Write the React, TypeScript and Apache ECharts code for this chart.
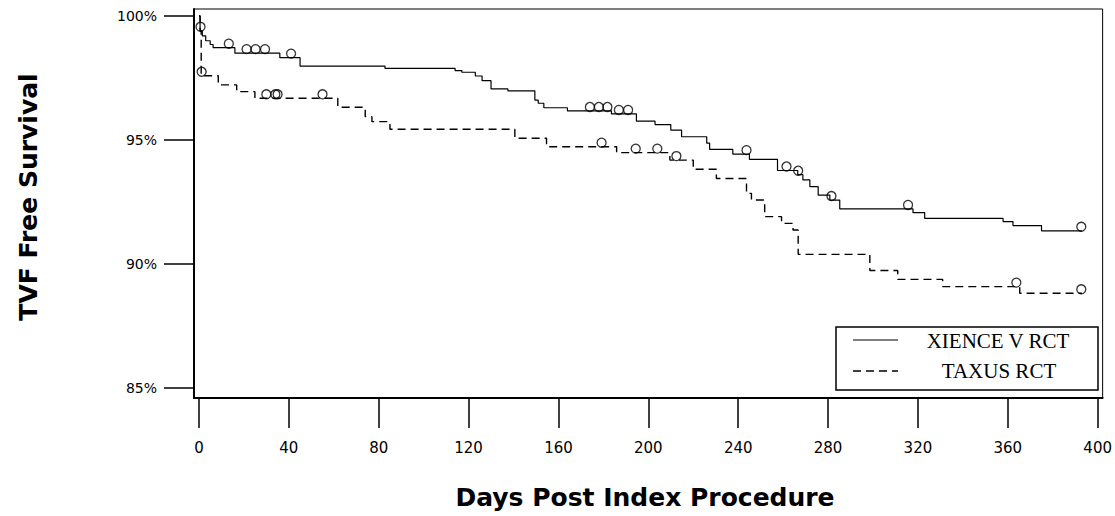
import React, { useEffect, useRef } from "react";
import * as echarts from "echarts";

// ---- data ----
const xTicks = [0, 40, 80, 120, 160, 200, 240, 280, 320, 360, 400];
const yTicks = [85, 90, 95, 100];
const seriesNames = ["XIENCE V RCT", "TAXUS RCT"];

const xienceDays = [0, 0.5, 1.5, 3, 5, 6.3, 16, 36, 45, 82.8, 114, 117, 123, 126, 130, 137.5, 149.5, 151, 153.5, 164, 183.6, 194.7, 203, 210, 214.8, 226, 227.3, 237.6, 245, 257.5, 266.5, 268.8, 271.9, 275.6, 280.8, 285.2, 317.8, 323, 357.9, 362.3, 375, 393];
const xienceSurv = [100, 99.4, 99.2, 99.0, 98.85, 98.72, 98.5, 98.32, 97.98, 97.89, 97.8, 97.73, 97.58, 97.39, 97.06, 96.98, 96.61, 96.48, 96.3, 96.17, 96.05, 95.76, 95.62, 95.4, 95.13, 94.87, 94.62, 94.43, 94.22, 93.77, 93.6, 93.39, 93.12, 92.78, 92.58, 92.22, 92.07, 91.84, 91.71, 91.55, 91.34, 91.34];
const xienceCensorDays = [0.7, 13.3, 21.2, 25.2, 29.4, 41, 174, 178, 181.8, 186.9, 191, 243.7, 261.5, 266.7, 281.5, 315.6, 392.7];

const taxusDays = [0, 0.5, 1.0, 8.6, 16.8, 24.9, 61.8, 74, 77, 85, 140.6, 154.7, 185.9, 209.6, 220, 230.3, 243.7, 245.9, 251.8, 259.3, 264.4, 266.7, 298.6, 311, 331, 365.3, 393];
const taxusSurv = [100, 99.4, 97.59, 97.22, 96.95, 96.68, 96.32, 95.94, 95.74, 95.43, 95.07, 94.73, 94.49, 94.19, 93.82, 93.45, 92.85, 92.58, 91.91, 91.64, 91.37, 90.39, 89.74, 89.38, 89.09, 88.82, 88.82];
const taxusCensorDays = [1.2, 30, 34, 35, 55, 179.2, 194.4, 204, 212.5, 363.8, 392.7];

const xTitle = "Days Post Index Procedure";
const yTitle = "TVF Free Survival";

function stepAt(days: number[], surv: number[], t: number): number {
  let v = surv[0];
  for (let i = 0; i < days.length; i++) if (days[i] <= t) v = surv[i];
  return v;
}

export default function App() {
  const ref = useRef<HTMLDivElement>(null);
  useEffect(() => {
    if (!ref.current) return;
    const chart = echarts.init(ref.current, null, { renderer: "svg" });
    const xPairs = xienceDays.map((d, i) => [d, xienceSurv[i]]);
    const tPairs = taxusDays.map((d, i) => [d, taxusSurv[i]]);
    const xCens = xienceCensorDays.map((d) => [d, stepAt(xienceDays, xienceSurv, d)]);
    const tCens = taxusCensorDays.map((d) => [d, stepAt(taxusDays, taxusSurv, d)]);
    const axisFont = "'DejaVu Sans', sans-serif";
    const censorStyle = {
      type: "scatter",
      symbol: "circle",
      symbolSize: 9,
      symbolOffset: [0, -4],
      z: 5,
      itemStyle: { color: "rgba(255,255,255,0)", borderColor: "#000", borderWidth: 1.3 },
    };
    chart.setOption({
      animation: false,
      backgroundColor: "#fff",
      grid: { left: 194, right: 12, top: 9, bottom: 118, show: true, borderColor: "#000", borderWidth: 1 },
      xAxis: {
        type: "value",
        min: -2.2,
        max: 402.2,
        splitLine: { show: false },
        axisLine: { show: true, onZero: false, lineStyle: { color: "#000", width: 2 } },
        axisTick: { show: true, customValues: xTicks, length: 30, inside: false, lineStyle: { color: "#000", width: 1.5 } },
        axisLabel: { customValues: xTicks, margin: 42, fontSize: 15, fontFamily: axisFont, color: "#000" },
      },
      yAxis: {
        type: "value",
        min: 84.6,
        max: 100.28,
        splitLine: { show: false },
        axisLine: { show: true, onZero: false, lineStyle: { color: "#000", width: 2 } },
        axisTick: { show: true, customValues: yTicks, length: 30, inside: false, lineStyle: { color: "#000", width: 1.5 } },
        axisLabel: { customValues: yTicks, margin: 37, fontSize: 14, fontFamily: axisFont, color: "#000", formatter: "{value}%" },
      },
      series: [
        {
          name: seriesNames[0],
          type: "line",
          step: "end",
          data: xPairs,
          showSymbol: false,
          lineStyle: { color: "#000", width: 1.2 },
        },
        {
          name: seriesNames[1],
          type: "line",
          step: "end",
          data: tPairs,
          showSymbol: false,
          lineStyle: { color: "#000", width: 1.4, type: [8, 5] },
        },
        { ...censorStyle, name: seriesNames[0] + " censored", data: xCens },
        { ...censorStyle, name: seriesNames[1] + " censored", data: tCens },
      ],
      graphic: [
        {
          type: "text",
          x: 645,
          y: 497,
          style: { text: xTitle, align: "center", verticalAlign: "middle", fontSize: 25, fontWeight: "bold", fontFamily: axisFont, fill: "#000" },
        },
        {
          type: "text",
          x: 28,
          y: 197,
          rotation: Math.PI / 2,
          style: { text: yTitle, align: "center", verticalAlign: "middle", fontSize: 25, fontWeight: "bold", fontFamily: axisFont, fill: "#000" },
        },
        {
          type: "rect",
          shape: { x: 836, y: 327, width: 262, height: 63 },
          style: { fill: "#fff", stroke: "#000", lineWidth: 1.5 },
          z: 10,
        },
        {
          type: "line",
          shape: { x1: 853, y1: 340, x2: 898, y2: 340 },
          style: { stroke: "#000", lineWidth: 1.2 },
          z: 11,
        },
        {
          type: "line",
          shape: { x1: 853, y1: 371, x2: 898, y2: 371 },
          style: { stroke: "#000", lineWidth: 1.4, lineDash: [8, 5] },
          z: 11,
        },
        {
          type: "text",
          x: 998,
          y: 341,
          z: 11,
          style: { text: seriesNames[0], align: "center", verticalAlign: "middle", fontSize: 21, fontFamily: "'Liberation Serif', serif", fill: "#000" },
        },
        {
          type: "text",
          x: 999,
          y: 371,
          z: 11,
          style: { text: seriesNames[1], align: "center", verticalAlign: "middle", fontSize: 21, fontFamily: "'Liberation Serif', serif", fill: "#000" },
        },
      ],
    });
    return () => chart.dispose();
  }, []);
  return <div ref={ref} style={{ position: "fixed", left: 0, top: 0, width: 1115, height: 516, background: "#fff" }} />;
}
